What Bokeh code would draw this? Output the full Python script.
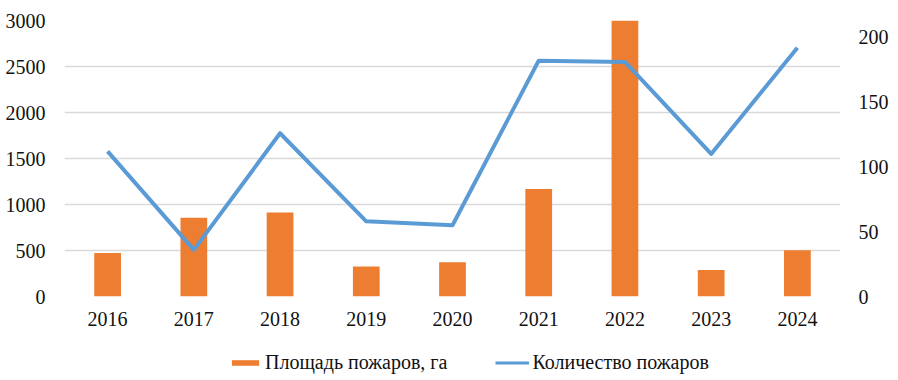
from bokeh.plotting import figure
from bokeh.layouts import column
from bokeh.models import (FactorRange, Range1d, LinearAxis, FixedTicker, Legend, LegendItem,
                          ColumnDataSource)
from bokeh.embed import file_html
from bokeh.resources import INLINE

years = ["2016", "2017", "2018", "2019", "2020", "2021", "2022", "2023", "2024"]
area_ha = [472, 855, 913, 326, 372, 1168, 3000, 287, 503]
fire_count = [112, 36, 126, 58, 55, 182, 181, 110, 192]
left_ticks = [0, 500, 1000, 1500, 2000, 2500, 3000]
right_ticks = [0, 50, 100, 150, 200]
series_names = ["Площадь пожаров, га", "Количество пожаров"]

FONT = "Liberation Serif"
FS = "20px"
ORANGE = "#ED7D31"
BLUE = "#5B9BD5"

src = ColumnDataSource(data=dict(year=years, area=area_ha, count=fire_count))

p = figure(width=898, height=340, x_range=FactorRange(*years, range_padding=0),
           y_range=Range1d(0, 3000), output_backend="svg", toolbar_location=None,
           min_border_left=64, min_border_right=58, min_border_top=20, min_border_bottom=44)
p.extra_y_ranges = {"n": Range1d(0, 213)}
p.outline_line_color = None

p.vbar(x="year", top="area", width=0.31, source=src, fill_color=ORANGE, line_color=None)
p.line(x="year", y="count", source=src, y_range_name="n", line_color=BLUE,
       line_width=4, line_join="round")

p.xgrid.grid_line_color = None
p.ygrid.grid_line_color = "#d9d9d9"
p.ygrid.grid_line_width = 1.3
p.yaxis.ticker = FixedTicker(ticks=left_ticks)

raxis = LinearAxis(y_range_name="n", ticker=FixedTicker(ticks=right_ticks))
p.add_layout(raxis, "right")

for ax in [p.xaxis[0], p.yaxis[0], raxis]:
    ax.axis_line_color = None
    ax.major_tick_line_color = None
    ax.minor_tick_line_color = None
    ax.major_tick_out = 0
    ax.major_tick_in = 0
    ax.major_label_text_font = FONT
    ax.major_label_text_font_size = FS
    ax.major_label_text_color = "#111111"
p.xaxis.major_label_standoff = 15
p.yaxis[0].major_label_standoff = 19
raxis.major_label_standoff = 18

# legend strip below the chart (its frame is aligned with the main chart's frame)
lg = figure(width=898, height=40, x_range=Range1d(0, 1), y_range=Range1d(0, 1),
            output_backend="svg", toolbar_location=None,
            x_axis_location=None, y_axis_location=None,
            min_border_left=64, min_border_right=58, min_border_top=0, min_border_bottom=0)
lg.grid.grid_line_color = None
lg.outline_line_color = None
nan = float("nan")
nothing = ColumnDataSource(data=dict(x=[0.4, 0.6], y=[nan, nan], t=[nan, nan]))
r_bar = lg.vbar(x="x", top="t", width=0.1, source=nothing, fill_color=ORANGE, line_color=None)
r_line = lg.line(x="x", y="y", source=nothing, line_color=BLUE, line_width=3)

legend = Legend(items=[LegendItem(label=series_names[0], renderers=[r_bar]),
                       LegendItem(label=series_names[1], renderers=[r_line])],
                orientation="horizontal", location=(164, 6),
                label_text_font=FONT, label_text_font_size=FS,
                label_text_color="#111111",
                glyph_width=34, glyph_height=7, label_standoff=3, spacing=48,
                padding=0, margin=0, border_line_color=None,
                background_fill_alpha=0)
lg.add_layout(legend, "center")

open("out.html", "w").write(file_html(column(p, lg, spacing=0), INLINE))
